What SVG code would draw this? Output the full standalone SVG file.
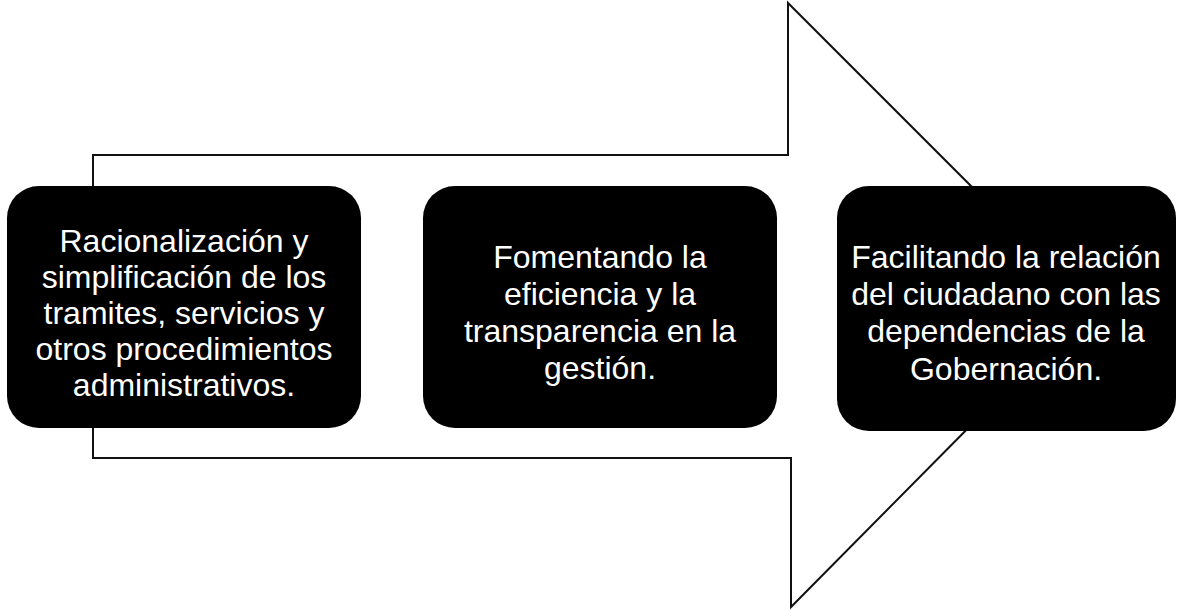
<svg xmlns="http://www.w3.org/2000/svg" width="1178" height="611" viewBox="0 0 1178 611">
<style>
.box{fill:#000;}
.lbl{fill:#fff;font-family:"Liberation Sans",Arial,sans-serif;font-size:32px;text-anchor:middle;}
.arrow{fill:none;stroke:#111;stroke-width:2;stroke-linejoin:miter;}
</style>
<rect width="1178" height="611" fill="#fff"/>
<g id="arrow">
<path class="arrow" d="M93,155 L788,155 L788,3 L1090,305 L791,607 L791,458 L93,458 Z"/>
</g>
<g id="node1">
<rect class="box" x="7" y="186" width="354" height="242" rx="32" ry="32"/>
<text class="lbl" x="184" y="252">Racionalización y</text>
<text class="lbl" x="184" y="288">simplificación de los</text>
<text class="lbl" x="184" y="324">tramites, servicios y</text>
<text class="lbl" x="184" y="360">otros procedimientos</text>
<text class="lbl" x="184" y="396">administrativos.</text>
</g>
<g id="node2">
<rect class="box" x="423" y="186" width="354" height="242" rx="32" ry="32"/>
<text class="lbl" x="600" y="268">Fomentando la</text>
<text class="lbl" x="600" y="305">eficiencia y la</text>
<text class="lbl" x="600" y="342">transparencia en la</text>
<text class="lbl" x="600" y="379">gestión.</text>
</g>
<g id="node3">
<rect class="box" x="837" y="186" width="339" height="245" rx="32" ry="32"/>
<text class="lbl" x="1006" y="268">Facilitando la relación</text>
<text class="lbl" x="1006" y="305">del ciudadano con las</text>
<text class="lbl" x="1006" y="342">dependencias de la</text>
<text class="lbl" x="1006" y="380">Gobernación.</text>
</g>
<g id="connectors"></g>
</svg>
